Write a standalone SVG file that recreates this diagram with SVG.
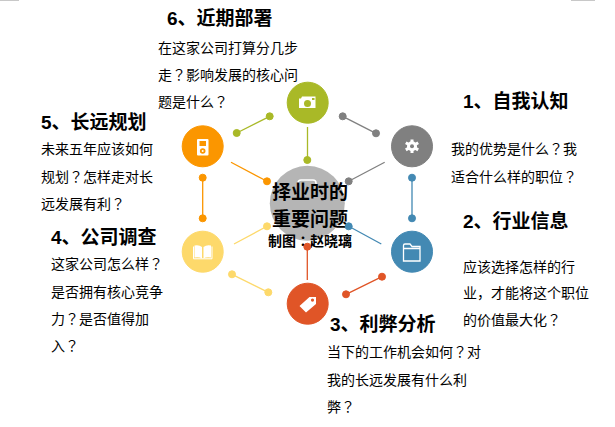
<svg xmlns="http://www.w3.org/2000/svg" width="615" height="427" viewBox="0 0 615 427">
<style>
text{font-family:"Liberation Sans","Noto Sans CJK SC",sans-serif;fill:#000}
.t{font-size:19px;font-weight:700}
.b{font-size:14px}
.c{font-size:19px;font-weight:700;text-anchor:middle}
.q{font-family:"Noto Sans CJK JP",sans-serif}
.i{fill:#fff}
.o{fill:none;stroke:#fff;stroke-width:1.3}
.l{fill:none;stroke-width:1.3}
.green{fill:#a9b927;stroke:#a9b927}.gray{fill:#808080;stroke:#808080}.blue{fill:#4389b3;stroke:#4389b3}.red{fill:#e05527;stroke:#e05527}.yellow{fill:#fdd96b;stroke:#fdd96b}.orange{fill:#fb9600;stroke:#fb9600}
</style>
<rect width="615" height="427" fill="#fff"/>
<rect x="0" y="0" width="19" height="1" fill="#c8c8c8"/><rect x="571" y="0" width="24" height="1" fill="#c8c8c8"/>
<g id="node-center">
<circle cx="307.3" cy="203.3" r="37.5" fill="#b5b5b5"/>
<path d="M298 188V183Q298 180 301 180H313Q316 180 316 183V188" fill="none" stroke="#fff" stroke-width="1.5"/>
<text class="c" x="310" y="199">择业时的</text>
<text class="c" x="310" y="226">重要问题</text>
<text x="310" y="246" text-anchor="middle" style="font-size:14px;font-weight:700">制图<tspan class="q">：</tspan>赵晓璃</text>
</g>
<g id="connectors">
<g class="green"><path class="l" d="M307.5 127V160M269.7 116.3L236.7 133"/><circle cx="307.3" cy="160" r="3.500"/><circle cx="269.7" cy="116.3" r="3.500"/><circle cx="236.7" cy="133" r="3.500"/></g>
<g class="gray"><path class="l" d="M342.7 116.3L376 133.3M384.7 162.3L348.7 181.3"/><circle cx="342.7" cy="116.3" r="3.500"/><circle cx="376" cy="133.3" r="3.500"/><circle cx="348.7" cy="181.3" r="3.500"/></g>
<g class="blue"><path class="l" d="M412 177.7V218.3M381.3 244L348.7 226.3"/><circle cx="412" cy="177.7" r="3.500"/><circle cx="412" cy="218.3" r="3.500"/><circle cx="348.7" cy="226.3" r="3.500"/></g>
<g class="red"><path class="l" d="M307.3 280V246.7M382 276.7L346 294.3"/><circle cx="307.3" cy="246.7" r="3.500"/><circle cx="382" cy="276.7" r="3.500"/><circle cx="346" cy="294.3" r="3.500"/></g>
<g class="yellow"><path class="l" d="M268.3 292.3L232 274.3M234 244L267 226.3"/><circle cx="268.3" cy="292.3" r="3.500"/><circle cx="232" cy="274.3" r="3.500"/><circle cx="267" cy="226.3" r="3.500"/></g>
<g class="orange"><path class="l" d="M202.7 177.7V218.3M231 162.3L267 181.3"/><circle cx="202.7" cy="177.7" r="3.500"/><circle cx="202.7" cy="218.3" r="3.500"/><circle cx="267" cy="181.3" r="3.500"/></g>
</g>
<g id="node-6">
<circle class="green" cx="307.7" cy="102.7" r="20.500"/>
<path class="i" d="M299 98.500H301L302 96.500H315.500V108H299ZM307.500 100A3.500 3.500 0 1 0 307.500 107A3.500 3.500 0 1 0 307.500 100ZM312 98V100H314.500V98Z" fill-rule="evenodd"/>
<text class="t" x="167" y="25">6、近期部署</text>
<text class="b" x="158" y="53">在这家公司打算分几步</text>
<text class="b" x="158" y="80">走<tspan class="q">？</tspan>影响发展的核心问</text>
<text class="b" x="158" y="107">题是什么<tspan class="q">？</tspan></text>
</g>
<g id="node-1">
<circle class="gray" cx="412" cy="146.300" r="20.500"/>
<path d="M412 139.500V153M405.800 142.700L418.200 149.900M405.800 149.900L418.200 142.700" fill="none" stroke="#fff" stroke-width="3"/>
<circle cx="412" cy="146.300" r="5" fill="#fff"/><circle cx="412" cy="146.300" r="2" fill="#808080"/>
<text class="t" x="463" y="108">1、自我认知</text>
<text class="b" x="451" y="154">我的优势是什么<tspan class="q">？</tspan>我</text>
<text class="b" x="451" y="182">适合什么样的职位<tspan class="q">？</tspan></text>
</g>
<g id="node-2">
<circle class="blue" cx="412" cy="251.700" r="20.500"/>
<path class="o" d="M403.500 261V245.500Q403.500 244 405 244H410L412 246.500H420V261ZM403.500 248.500H420"/>
<text class="t" x="463" y="228">2、行业信息</text>
<text class="b" x="463" y="272">应该选择怎样的行</text>
<text class="b" x="463" y="298">业，才能将这个职位</text>
<text class="b" x="463" y="325">的价值最大化<tspan class="q">？</tspan></text>
</g>
<g id="node-3">
<circle class="red" cx="307.700" cy="303.700" r="20.500"/>
<path class="i" d="M299.500 306L309.500 297H316V304L306 312.500ZM312.500 298.500A1.600 1.600 0 1 0 312.500 301.700A1.600 1.600 0 1 0 312.500 298.500Z" fill-rule="evenodd"/>
<text class="t" x="330" y="331">3、利弊分析</text>
<text class="b" x="327" y="357">当下的工作机会如何<tspan class="q">？</tspan>对</text>
<text class="b" x="327" y="385">我的长远发展有什么利</text>
<text class="b" x="327" y="412">弊<tspan class="q">？</tspan></text>
</g>
<g id="node-4">
<circle class="yellow" cx="202.700" cy="251.700" r="20.500"/>
<path class="i" d="M194.500 245.500Q199 244.500 202 247V258.500Q199 256.500 194.500 257.500ZM203.500 247Q206.500 244.500 211 245.500V257.500Q206.500 256.500 203.500 258.500Z"/>
<path d="M193.500 246.500V258.800H212V246.500" fill="none" stroke="#fff" stroke-width="1"/>
<text class="t" x="51" y="244">4、公司调查</text>
<text class="b" x="51" y="269">这家公司怎么样<tspan class="q">？</tspan></text>
<text class="b" x="51" y="297">是否拥有核心竞争</text>
<text class="b" x="51" y="324">力<tspan class="q">？</tspan>是否值得加</text>
<text class="b" x="51" y="351">入<tspan class="q">？</tspan></text>
</g>
<g id="node-5">
<circle class="orange" cx="202.700" cy="146.300" r="20.500"/>
<rect x="197" y="139" width="11.500" height="16.500" rx="1" fill="#fff"/>
<rect x="199.500" y="141" width="6.500" height="5" fill="#fb9600"/>
<circle cx="202.700" cy="151" r="2.800" fill="#fb9600"/><circle cx="202.700" cy="151" r="1" fill="#fff"/>
<text class="t" x="41" y="129">5、长远规划</text>
<text class="b" x="41" y="154">未来五年应该如何</text>
<text class="b" x="41" y="182">规划<tspan class="q">？</tspan>怎样走对长</text>
<text class="b" x="41" y="209">远发展有利<tspan class="q">？</tspan></text>
</g>
</svg>
